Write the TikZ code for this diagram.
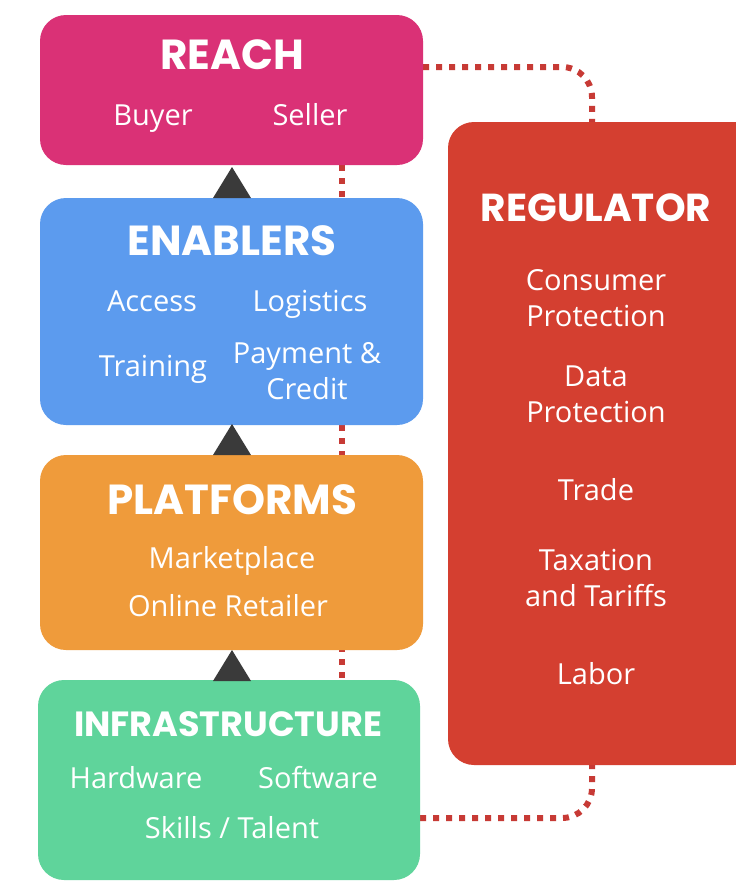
\documentclass[tikz,border=0pt]{standalone}
\usepackage{fontspec}
\setmainfont{Open Sans}
\newfontfamily\headfont{Poppins}
\definecolor{reachc}{HTML}{DA3176}
\definecolor{enablc}{HTML}{5C9BEE}
\definecolor{platc}{HTML}{EF9B3B}
\definecolor{infrac}{HTML}{5FD49B}
\definecolor{regc}{HTML}{D43F30}
\definecolor{dotc}{HTML}{C73A35}
\definecolor{arrc}{HTML}{3A3A3A}
\tikzset{
  x=1pt,y=-1pt,
  box/.style={rounded corners=26pt, draw=none},
  head/.style={text=white, font=\headfont\bfseries\fontsize{42}{46}\selectfont, inner sep=0pt},
  item/.style={text=white, font=\fontsize{29}{36}\selectfont, inner sep=0pt, align=center,
    execute at begin node=\strut, execute at end node=\strut, yshift=-3pt},
  dots/.style={draw=dotc, line width=6pt, dash pattern=on 6pt off 7pt},
  tri/.style={fill=arrc, draw=none}
}
\begin{document}
\begin{tikzpicture}
\useasboundingbox (0,0) rectangle (736,887);
\fill[white] (0,0) rectangle (736,887);
% dotted connectors
\coordinate (cvt) at (342,165);
\coordinate (cvb) at (342,680);
\draw[dots] (cvt) -- (cvb);
\coordinate (ct1) at (423,67);
\coordinate (ct2) at (592,122);
\draw[dots, rounded corners=30pt] (ct1) -- (592,67) -- (ct2);
\coordinate (cb1) at (420,818);
\coordinate (cb2) at (592,765);
\draw[dots, rounded corners=30pt] (cb1) -- (592,818) -- (cb2);
% boxes
\fill[box, reachc] (40,15) rectangle (423,165);
\fill[box, enablc] (40,198) rectangle (423,425);
\fill[box, platc] (40,455) rectangle (423,650);
\fill[box, infrac] (38,680) rectangle (420,880);
\fill[box, regc] (448,122) rectangle (760,765);
% triangles
\fill[tri] (232,167) -- (251,198) -- (213,198) -- cycle;
\fill[tri] (232,424) -- (251,455) -- (213,455) -- cycle;
\fill[tri] (232,650) -- (251,681) -- (213,681) -- cycle;
% texts
\node[head] (reach) at (232,55) {REACH};
\node[item] (buyer) at (153,115) {Buyer};
\node[item] (seller) at (310,115) {Seller};
\node[head] (enab) at (232,241) {ENABLERS};
\node[item] (access) at (152,301) {Access};
\node[item] (logis) at (310,301) {Logistics};
\node[item] (train) at (153,366) {Training};
\node[item] (pay) at (307,373) {Payment \&\\Credit};
\node[head] (plat) at (232,500) {PLATFORMS};
\node[item] (mkt) at (232,558) {Marketplace};
\node[item] (onl) at (228,606) {Online Retailer};
\node[head, font=\headfont\bfseries\fontsize{35}{40}\selectfont] (infra) at (228,724) {INFRASTRUCTURE};
\node[item] (hw) at (136,778) {Hardware};
\node[item] (sw) at (318,778) {Software};
\node[item] (skills) at (232,828) {Skills / Talent};
\node[head, font=\headfont\bfseries\fontsize{39}{44}\selectfont] (reg) at (596,208) {REGULATOR};
\node[item] (cons) at (596,300) {Consumer\\Protection};
\node[item] (data) at (596,397) {Data\\Protection};
\node[item] (trade) at (596,490) {Trade};
\node[item] (tax) at (596,580) {Taxation\\and Tariffs};
\node[item] (labor) at (596,674) {Labor};
\end{tikzpicture}
\end{document}
